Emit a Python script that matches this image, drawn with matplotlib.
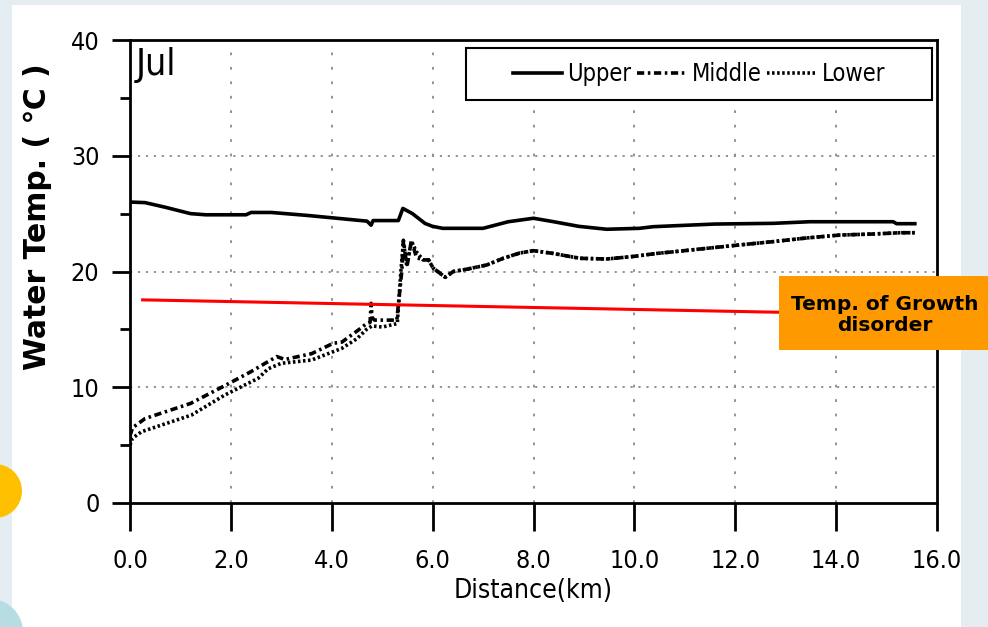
import matplotlib
matplotlib.use("Agg")
import matplotlib.pyplot as plt
from matplotlib import font_manager
from matplotlib.font_manager import FontProperties
from matplotlib.patches import Rectangle, Ellipse
from matplotlib.lines import Line2D

# distance (km) / water temperature (degC) along the reservoir, July profile
upper_x = [0.0, 0.3, 0.7, 1.2, 1.5, 2.3, 2.4, 2.8, 3.5, 4.1, 4.7, 4.78, 4.82, 5.32, 5.41,
           5.6, 5.85, 6.0, 6.2, 7.0, 7.5, 8.0, 8.4, 8.9, 9.45, 10.1, 10.37, 10.84, 11.6,
           12.75, 13.48, 15.13, 15.2, 15.56]
upper_y = [26.0, 25.95, 25.55, 25.0, 24.9, 24.9, 25.1, 25.1, 24.85, 24.6, 24.35, 24.0, 24.4,
           24.4, 25.45, 25.0, 24.15, 23.9, 23.73, 23.73, 24.3, 24.6, 24.3, 23.9, 23.65, 23.73,
           23.87, 23.96, 24.1, 24.16, 24.3, 24.3, 24.13, 24.13]

middle_x = [0.0, 0.05, 0.3, 1.2, 1.95, 2.4, 2.68, 2.91, 3.07, 3.6, 4.03, 4.2, 4.53, 4.69,
            4.76, 4.78, 4.8, 4.85, 5.29, 5.39, 5.42, 5.49, 5.58, 5.68, 5.81, 5.92, 6.01,
            6.25, 6.41, 6.68, 7.07, 7.4, 7.73, 8.0, 8.39, 8.92, 9.45, 9.98, 10.44, 10.77,
            11.43, 12.1, 12.75, 13.42, 14.08, 14.74, 15.27, 15.56]
middle_y = [5.8, 6.5, 7.3, 8.6, 10.3, 11.35, 12.07, 12.65, 12.4, 12.9, 13.8, 13.9, 14.95,
            15.5, 15.6, 17.25, 16.0, 15.8, 15.8, 20.1, 22.7, 20.4, 22.7, 21.2, 21.0, 21.0,
            20.3, 19.5, 20.0, 20.2, 20.56, 21.14, 21.6, 21.8, 21.56, 21.14, 21.08, 21.3,
            21.56, 21.7, 22.0, 22.3, 22.58, 22.9, 23.15, 23.24, 23.35, 23.35]

lower_x = [0.0, 0.05, 0.23, 1.22, 1.88, 2.54, 2.74, 3.0, 3.6, 4.2, 4.5, 4.69, 4.8, 5.0,
           5.3, 5.37, 5.42, 5.49, 5.58, 5.68, 5.81, 5.92, 6.01, 6.25, 6.41, 6.68, 7.07,
           7.4, 7.73, 8.0, 8.39, 8.92, 9.45, 9.98, 10.44, 10.77, 11.43, 12.1, 12.75,
           13.42, 14.08, 14.74, 15.27, 15.56]
lower_y = [5.0, 5.6, 6.16, 7.6, 9.33, 10.77, 11.6, 12.07, 12.35, 13.36, 14.2, 15.0, 15.3,
           15.2, 15.5, 20.0, 22.5, 20.6, 22.6, 21.7, 21.0, 21.0, 20.3, 19.5, 20.0, 20.2,
           20.56, 21.14, 21.6, 21.8, 21.56, 21.14, 21.08, 21.3, 21.56, 21.7, 22.0, 22.3,
           22.58, 22.9, 23.15, 23.24, 23.35, 23.35]

# growth disorder threshold line
growth_x = [0.25, 12.85]
growth_y = [17.55, 16.48]

x_ticks = [0, 2, 4, 6, 8, 10, 12, 14, 16]
x_labels = ["0.0", "2.0", "4.0", "6.0", "8.0", "10.0", "12.0", "14.0", "16.0"]
y_ticks = [0, 10, 20, 30, 40]


def narrow_font(size):
    # look for any installed narrow / condensed regular face
    best = None
    for f in font_manager.fontManager.ttflist:
        if f.style != "normal" or f.weight not in (400, "normal", "regular"):
            continue
        if "Narrow" in f.name or "Condensed" in f.name or "condensed" in str(f.stretch):
            rank = 0 if "Liberation" in f.name else (1 if "DejaVu" in f.name else 2)
            if best is None or rank < best[0]:
                best = (rank, f.fname)
    if best:
        return FontProperties(fname=best[1], size=size)
    return FontProperties(family="DejaVu Sans", stretch="condensed", size=size)


W, H = 988, 627
fig = plt.figure(figsize=(W / 100, H / 100), dpi=100)
fig.patch.set_facecolor("#e4edf2")

def px_rect(x0, y0, x1, y1, **kw):
    # rectangle given in pixel coords (top-left origin)
    return Rectangle((x0 / W, 1 - y1 / H), (x1 - x0) / W, (y1 - y0) / H,
                     transform=fig.transFigure, **kw)

fig.patches.append(px_rect(12, 5, 961, H + 2, facecolor="white", edgecolor="none", zorder=-2))
fig.patches.append(Ellipse((-5 / W, 1 - 491 / H), 54 / W, 54 / H, transform=fig.transFigure,
                           facecolor="#ffc000", edgecolor="none", zorder=-1))
fig.patches.append(Ellipse((-10 / W, 1 - 632 / H), 66 / W, 66 / H, transform=fig.transFigure,
                           facecolor="#b5dde2", edgecolor="none", zorder=-1))

ax = fig.add_axes([130 / W, 1 - 503 / H, (937 - 130) / W, (503 - 40) / H])
ax.set_facecolor("none")
ax.set_zorder(2)

ax.plot(upper_x, upper_y, color="black", lw=2.6, solid_joinstyle="round")
ax.plot(middle_x, middle_y, color="black", lw=2.6, linestyle=(0, (2.0, 1.0, 0.7, 1.0)))
ax.plot(lower_x, lower_y, color="black", lw=2.6, linestyle=(0, (0.7, 0.7)))
ax.plot(growth_x, growth_y, color="#ff0000", lw=2.2, clip_on=False, zorder=5)

ax.set_xlim(0, 16)
ax.set_ylim(0, 40)
ax.set_xticks(x_ticks)
ax.set_xticklabels(x_labels)
ax.set_yticks(y_ticks)
ax.set_yticks([5, 15, 25, 35], minor=True)

for s in ax.spines.values():
    s.set_linewidth(2.0)
ax.tick_params(axis="x", which="major", direction="out", length=20, width=2, pad=13)
ax.tick_params(axis="y", which="major", direction="out", length=13, width=2, pad=9)
ax.tick_params(axis="y", which="minor", direction="out", length=7, width=2)
tick_fp = narrow_font(18)
for lab in ax.get_xticklabels() + ax.get_yticklabels():
    lab.set_fontproperties(tick_fp)

# dotted grid, only interior lines
for gx in x_ticks[1:-1]:
    ax.axvline(gx, color="#8a8a8a", lw=1.3, linestyle=(0, (1.5, 6.5)), zorder=0)
for gy in y_ticks[1:-1]:
    ax.axhline(gy, color="#8a8a8a", lw=1.3, linestyle=(0, (1.2, 3.2)), zorder=0)

ax.set_xlabel("Distance(km)", fontproperties=narrow_font(19), labelpad=4)
fig.text(37 / W, 1 - 217 / H, "Water Temp. ( \u2103 )", rotation=90, ha="center",
         va="center", fontsize=21.5, fontweight="bold", family="DejaVu Sans")

ax.text(0.007, 0.985, "Jul", transform=ax.transAxes, ha="left", va="top",
        fontproperties=narrow_font(27))

# legend: plain box + frameless legend in the middle of it
ax.add_patch(Rectangle((0.416, 0.870), 0.578, 0.113, transform=ax.transAxes,
                       facecolor="white", edgecolor="black", lw=1.5, zorder=4))
handles = [
    Line2D([], [], color="black", lw=2.6),
    Line2D([], [], color="black", lw=2.6, linestyle=(0, (2.0, 1.0, 0.7, 1.0))),
    Line2D([], [], color="black", lw=2.6, linestyle=(0, (0.7, 0.7))),
]
leg = ax.legend(handles, ["Upper", "Middle", "Lower"], ncol=3, frameon=False,
                loc="center", bbox_to_anchor=(0.705, 0.9266),
                prop=narrow_font(17), handlelength=2.1,
                handletextpad=0.2, columnspacing=0.25, borderpad=0)
leg.set_zorder(6)

# orange annotation box
fig.patches.append(px_rect(779, 276, 995, 349.5, facecolor="#ff9900", edgecolor="none",
                           zorder=10))
fig.text(885 / W, 1 - 315 / H, "Temp. of Growth\ndisorder", ha="center", va="center",
         fontsize=14.5, fontweight="bold", family="DejaVu Sans", linespacing=1.15,
         zorder=11)

fig.savefig("out.png", dpi=100, facecolor=fig.get_facecolor())
